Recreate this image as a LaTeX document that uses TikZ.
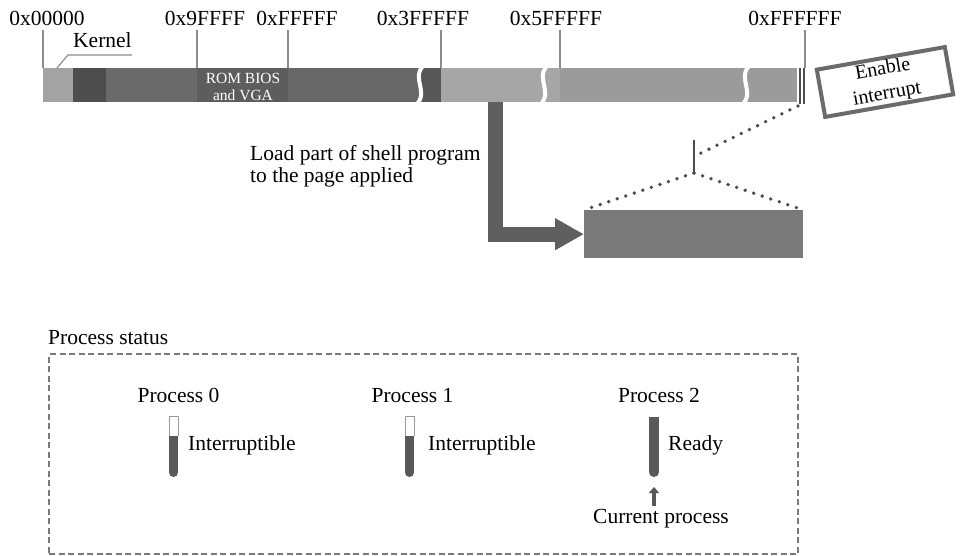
\documentclass[tikz,border=0pt]{standalone}
\usepackage{fontspec}
\setmainfont{Liberation Serif}
\usetikzlibrary{arrows.meta}
\definecolor{tickgray}{HTML}{8C8C8C}
\definecolor{kernelgray}{HTML}{A3A3A3}
\definecolor{segdark}{HTML}{4D4D4D}
\definecolor{segmid}{HTML}{6A6A6A}
\definecolor{segrom}{HTML}{5D5D5D}
\definecolor{segmidb}{HTML}{676767}
\definecolor{segdarkb}{HTML}{575757}
\definecolor{seglight}{HTML}{A6A6A6}
\definecolor{seggray}{HTML}{9B9B9B}
\definecolor{arrowgray}{HTML}{5F5F5F}
\definecolor{pagegray}{HTML}{7A7A7A}
\definecolor{dotgray}{HTML}{4D4D4D}
\definecolor{boxgray}{HTML}{6B6B6B}
\definecolor{dashgray}{HTML}{7A7A7A}
\definecolor{tubedark}{HTML}{595959}
\definecolor{tubeedge}{HTML}{9A9A9A}
\begin{document}
\begin{tikzpicture}[x=1pt,y=-1pt,
  lbl/.style={font=\fontsize{21.5}{24}\selectfont, inner sep=0pt},
  tick/.style={draw=tickgray, line width=1.2pt},
  breakline/.style={draw=white, line width=4pt},
  dots/.style={draw=dotgray, line width=3.8pt, line cap=round, dash pattern=on 0pt off 9pt},
  bigarrow/.style={draw=arrowgray, line width=15pt, line join=miter,
    -{Triangle[width=30pt,length=29pt]}},
  smallarrow/.style={draw=tubedark, line width=4.5pt,
    -{Triangle[width=10pt,length=6pt]}},
  statusbox/.style={draw=dashgray, line width=2pt, dash pattern=on 6pt off 3.5pt,
    minimum width=749pt, minimum height=200pt, inner sep=0pt, anchor=north west},
  tubeoutline/.style={draw=tubeedge, line width=1pt}
]
\useasboundingbox (0,0) rectangle (964,556);

% address labels along the top
\node[lbl, anchor=base] (a0) at (47,26) {0x00000};
\node[lbl, anchor=base] (a1) at (205,26) {0x9FFFF};
\node[lbl, anchor=base] (a2) at (297,26) {0xFFFFF};
\node[lbl, anchor=base] (a3) at (423,26) {0x3FFFFF};
\node[lbl, anchor=base] (a4) at (556,26) {0x5FFFFF};
\node[lbl, anchor=base] (a5) at (795,26) {0xFFFFFF};

% memory bar segments
\fill[kernelgray] (43,68) rectangle (73,102);
\fill[segdark]    (73,68) rectangle (106,102);
\fill[segmid]     (106,68) rectangle (197,102);
\fill[segrom]     (197,68) rectangle (288,102);
\fill[segmidb]    (288,68) rectangle (420,102);
\fill[segdarkb]   (420,68) rectangle (441,102);
\fill[seglight]   (441,68) rectangle (560,102);
\fill[seggray]    (560,68) rectangle (797,102);

% breaks in the bar
\draw[breakline] (425,64) .. controls (409,78) and (431,92) .. (415,106);
\draw[breakline] (549,64) .. controls (533,78) and (555,92) .. (539,106);
\draw[breakline] (751,64) .. controls (735,78) and (757,92) .. (741,106);

% end marks of the address space
\draw[segdark, line width=2pt] (799.5,68) -- (799.5,104);
\draw[segdark, line width=2pt] (803.5,68) -- (803.5,104);

% address ticks
\coordinate (t0) at (43,30);   \coordinate (b0) at (43,68);
\coordinate (t1) at (197,30);  \coordinate (b1) at (197,68);
\coordinate (t2) at (288,30);  \coordinate (b2) at (288,68);
\coordinate (t3) at (441,30);  \coordinate (b3) at (441,68);
\coordinate (t4) at (560,30);  \coordinate (b4) at (560,68);
\coordinate (t5) at (805,30);  \coordinate (b5) at (805,68);
\foreach \i in {0,...,5} { \draw[tick] (t\i) -- (b\i); }

% kernel label and its leader
\node[lbl, anchor=base west] (kernel) at (73,48) {Kernel};
\coordinate (kfoot) at (57,68);
\draw[tick] (kfoot) -- (68,55) -- (kernel.south east |- 0,55);

% ROM BIOS text inside the bar
\node[font=\fontsize{15.5}{17}\selectfont, text=white, align=center, inner sep=0pt]
  (rom) at (243,87) {ROM BIOS\\and VGA};

% enable interrupt box
\node[font=\fontsize{20}{25}\selectfont, draw=boxgray, line width=4pt, fill=white, rotate=10,
  minimum width=130pt, minimum height=48pt, inner sep=1pt, align=center]
  (intr) at (885,82) {Enable\\interrupt};

% page receiving the shell program
\node[fill=pagegray, minimum width=219pt, minimum height=48pt, inner sep=0pt,
  anchor=north west] (page) at (584,210) {};

\coordinate (src) at (495.5,102);
\draw[bigarrow] (src) |- (page.west);

\node[lbl, anchor=base west] (load) at (250,161) {Load part of shell program};
\node[lbl, anchor=base west] (load2) at (250,183) {to the page applied};

% magnified view of the last page
\coordinate (barend) at (798,106);
\coordinate (ticktop) at (694,140);
\coordinate (tickmid) at (697,155);
\coordinate (tickbot) at (694,173);
\draw[dotgray, line width=1.5pt] (ticktop) -- (tickbot);
\draw[dots] (barend) -- (tickmid);
\draw[dots] (tickbot) -- (page.north west);
\draw[dots] (tickbot) -- (page.north east);

% process status panel
\node[lbl, anchor=base west] (ps) at (48,344) {Process status};
\node[statusbox] (status) at (48,353) {};

\node[lbl, anchor=base] (p0) at (178.5,402) {Process 0};
\node[lbl, anchor=base] (p1) at (412.5,402) {Process 1};
\node[lbl, anchor=base] (p2) at (659,402) {Process 2};

% tubes showing the state of each process
\fill[tubedark] (169,436) rectangle (178,472.5);
\fill[tubedark] (173.5,472.5) circle[radius=4.5];
\draw[tubeoutline] (169,436) -- (169,416) -- (178,416) -- (178,436);
\coordinate (tube0) at (173.5,416);

\fill[tubedark] (405,436) rectangle (414,472.5);
\fill[tubedark] (409.5,472.5) circle[radius=4.5];
\draw[tubeoutline] (405,436) -- (405,416) -- (414,416) -- (414,436);
\coordinate (tube1) at (409.5,416);

\fill[tubedark] (649,417) rectangle (659,472);
\fill[tubedark] (654,472) circle[radius=5];
\coordinate (tube2) at (654,481);

\node[lbl, anchor=base west] (s0) at (188,450) {Interruptible};
\node[lbl, anchor=base west] (s1) at (428,450) {Interruptible};
\node[lbl, anchor=base west] (s2) at (668,450) {Ready};

\node[lbl, anchor=base] (cur) at (661,523) {Current process};
\draw[smallarrow] (cur.north -| tube2) ++(0,-3) coordinate (curtop) (curtop) -- (tube2 |- 0,487);
\end{tikzpicture}
\end{document}
